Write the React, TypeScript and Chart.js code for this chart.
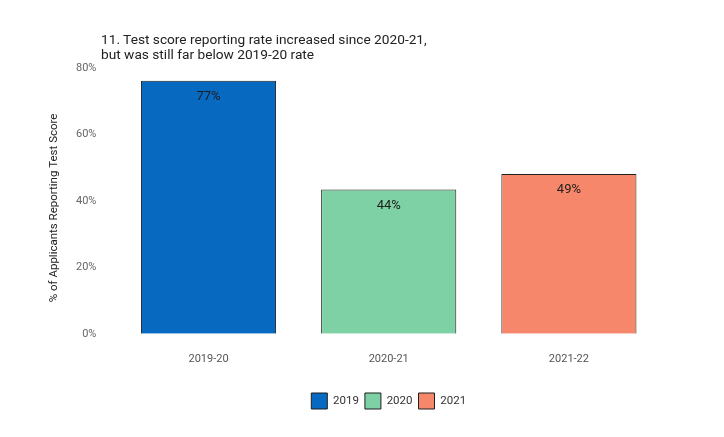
import React, { useEffect, useRef } from "react";
import { Chart, registerables } from "chart.js";

Chart.register(...registerables);

const categories = ["2019-20", "2020-21", "2021-22"];
const seriesNames = ["2019", "2020", "2021"];
const values = [76.2, 43.4, 48.1];
const valueLabels = ["77%", "44%", "49%"];
const colors = ["#0769BF", "#7ED1A4", "#F7876B"];
const yTicks = [0, 20, 40, 60, 80];
const titleLines = [
  "11. Test score reporting rate increased since 2020-21,",
  "but was still far below 2019-20 rate",
];
const yTitle = "% of Applicants Reporting Test Score";

const FONT = "Roboto, 'Noto Sans', sans-serif";

const valueLabelPlugin = {
  id: "valueLabels",
  afterDatasetsDraw(chart: any) {
    const ctx = chart.ctx;
    ctx.save();
    ctx.font = `13px ${FONT}`;
    ctx.fillStyle = "#1d1d1d";
    ctx.textAlign = "center";
    ctx.textBaseline = "middle";
    chart.data.datasets.forEach((ds: any, di: number) => {
      const meta = chart.getDatasetMeta(di);
      meta.data.forEach((el: any, i: number) => {
        if (ds.data[i] == null) return;
        ctx.fillText(valueLabels[i], el.x, el.y + 16);
      });
    });
    ctx.restore();
  },
};

const yTitlePlugin = {
  id: "yTitle",
  afterDraw(chart: any) {
    const ctx = chart.ctx;
    const a = chart.chartArea;
    ctx.save();
    ctx.translate(a.left - 64, (a.top + a.bottom) / 2 + 7);
    ctx.rotate(-Math.PI / 2);
    ctx.font = `11.5px ${FONT}`;
    ctx.fillStyle = "#222";
    ctx.textAlign = "center";
    ctx.textBaseline = "middle";
    ctx.fillText(yTitle, 0, 0);
    ctx.restore();
  },
};

export default function App() {
  const ref = useRef<HTMLCanvasElement>(null);
  useEffect(() => {
    if (!ref.current) return;
    const datasets = seriesNames.map((name, si) => ({
      label: name,
      data: categories.map((_, i) => (i === si ? values[i] : null)),
      backgroundColor: colors[si],
      borderColor: "#1f1f1f",
      borderWidth: 1,
      barPercentage: 0.75,
      categoryPercentage: 1,
    }));
    const chart = new Chart(ref.current, {
      type: "bar",
      data: { labels: categories, datasets },
      plugins: [valueLabelPlugin, yTitlePlugin],
      options: {
        animation: false,
        responsive: false,
        maintainAspectRatio: false,
        layout: { padding: { top: 68, left: 62, right: 65, bottom: 18 } },
        plugins: {
          legend: {
            position: "bottom",
            fullSize: false,
            labels: {
              boxWidth: 16,
              boxHeight: 16,
              color: "#333",
              font: { family: FONT, size: 11.5 },
              padding: 6,
            },
          },
          title: { display: false },
          tooltip: { enabled: false },
        },
        scales: {
          x: {
            stacked: true,
            grid: { display: false },
            border: { display: false },
            afterFit: (axis: any) => {
              axis.height += 10;
            },
            ticks: {
              color: "#555",
              font: { family: FONT, size: 11 },
              padding: 11,
            },
          },
          y: {
            stacked: false,
            min: 0,
            max: 80,
            afterBuildTicks: (axis: any) => {
              axis.ticks = yTicks.map((v) => ({ value: v }));
            },
            grid: { display: false },
            border: { display: false },
            ticks: {
              color: "#666",
              font: { family: FONT, size: 11 },
              padding: 14,
              callback: (v: any) => `${v}%`,
            },
          },
        },
      },
    });
    return () => chart.destroy();
  }, []);
  return (
    <div style={{ position: "absolute", left: 0, top: 0, width: 724, height: 437, background: "#fff" }}>
      <canvas ref={ref} width={724} height={437} style={{ position: "absolute", left: 0, top: 0 }} />
      <div
        style={{
          position: "absolute",
          left: 101,
          top: 32,
          fontFamily: FONT,
          fontSize: 13.7,
          lineHeight: "14.5px",
          color: "#222",
          whiteSpace: "nowrap",
        }}
      >
        {titleLines.map((l, i) => (
          <div key={i}>{l}</div>
        ))}
      </div>
    </div>
  );
}
